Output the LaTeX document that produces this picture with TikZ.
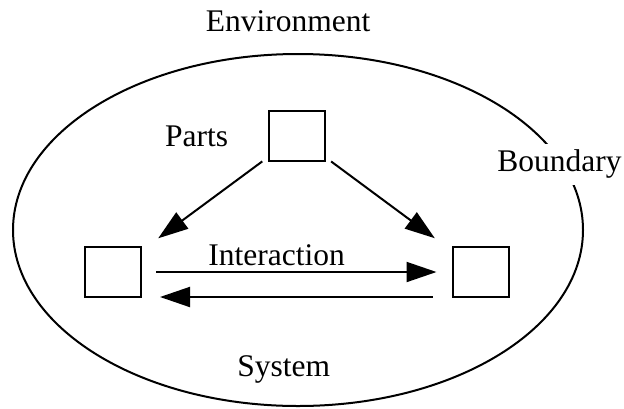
\documentclass[tikz,border=0pt]{standalone}
\usepackage{fontspec}
\setmainfont{Liberation Serif}
\usetikzlibrary{arrows.meta}
\tikzset{
  part/.style={draw, line width=2pt, minimum width=56pt, minimum height=50pt,
               inner sep=0pt, outer sep=0pt},
  label/.style={font=\fontsize{31.5}{36}\selectfont, anchor=base, inner sep=0pt},
  link/.style={line width=2pt, -{Triangle[length=30pt,width=20pt]}},
}
\begin{document}
\begin{tikzpicture}[x=1pt, y=-1pt]
  \useasboundingbox (0,0) rectangle (624,408);

  % system boundary
  \draw[line width=2pt] (298,230) ellipse [x radius=285pt, y radius=176pt];

  % parts
  \node[part] (top)   at (296.7,136) {};
  \node[part] (left)  at (112.5,272) {};
  \node[part] (right) at (480.5,272) {};

  % labels
  \node[label] (env)   at (288,31.7)    {Environment};
  \node[label] (parts) at (196.7,146)   {Parts};
  \node[label] (inter) at (276.7,265)   {Interaction};
  \node[label, fill=white, inner sep=6pt] (bound) at (559.5,171.7) {Boundary};
  \node[label] (sys)   at (283.7,376.7) {System};

  % connectors
  \draw[link, shorten <=8pt, shorten >=22pt] (top) -- (left);
  \draw[link, shorten <=8pt, shorten >=22pt] (top) -- (right);
  \draw[link, shorten <=15.5pt, shorten >=16pt] (left.east) -- (right.west);
  \draw[link, shorten <=20pt, shorten >=19.5pt] (right.south west) -- (left.south east);
\end{tikzpicture}
\end{document}
